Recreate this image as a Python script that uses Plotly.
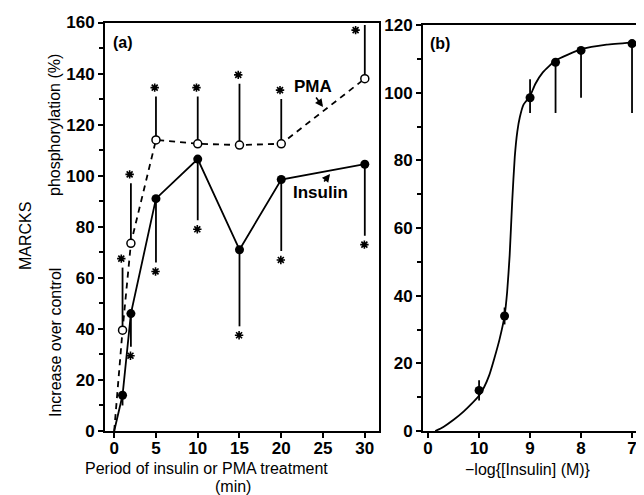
import plotly.graph_objects as go

# ---------------- Panel (a) data ----------------
time_min = [0, 1, 2, 5, 10, 15, 20, 30]
insulin_resp = [0, 14, 46, 91, 106.5, 71, 98.5, 104.5]
insulin_err_down = [0, 4, 13, 25, 24, 30, 28, 28]
insulin_sig = [False, False, True, True, True, True, True, True]
pma_resp = [0, 39.5, 73.5, 114, 112.5, 112, 112.5, 138]
pma_err_up = [0, 24.5, 23.5, 17, 18.5, 24, 17.5, 21]
pma_sig = [False, True, True, True, True, True, True, True]
time_ticks = [0, 5, 10, 15, 20, 25, 30]

# ---------------- Panel (b) data ----------------
neg_log_insulin = [10, 9.5, 9, 8.5, 8, 7]
dose_resp = [12, 34, 98.5, 109, 112.5, 114.5]
dose_err_up = [3, 2.5, 5.5, 0, 0, 0]
dose_err_down = [3, 2.5, 4.5, 15, 14, 20.5]
curve_neg_log = [10.86, 10.7, 10.5, 10.3, 10.15, 10.0, 9.9, 9.8, 9.7, 9.6, 9.5,
                 9.45, 9.4, 9.35, 9.3, 9.25, 9.2, 9.13, 9.0, 8.9, 8.75, 8.5, 8.0, 7.5, 7.0]
curve_resp = [0, 1.2, 3.3, 5.8, 8, 10.5, 13, 16.5, 21.5, 27, 34,
              41, 52, 68, 81, 88.5, 92.8, 96.4, 99, 102.5, 106, 109.5, 112.8, 114.2, 114.8]
dose_tick_labels = ["0", "10", "9", "8", "7"]

# position on the broken axis: "0" (no insulin) at 0, then -log 10 .. 7
def pos(v):
    return 11 - v

BLACK = "black"
FONT = "Liberation Sans, Arial, Helvetica, sans-serif"

fig = go.Figure()

# ---- panel (a) lines ----
fig.add_trace(go.Scatter(x=time_min, y=pma_resp, mode="lines",
                         line=dict(color=BLACK, width=1.8, dash="6px,5px"),
                         xaxis="x", yaxis="y", showlegend=False, hoverinfo="skip"))
fig.add_trace(go.Scatter(x=time_min, y=insulin_resp, mode="lines",
                         line=dict(color=BLACK, width=1.8),
                         xaxis="x", yaxis="y", showlegend=False, hoverinfo="skip"))

# ---- panel (a) markers with error bars ----
fig.add_trace(go.Scatter(
    x=time_min[1:], y=pma_resp[1:], mode="markers",
    marker=dict(symbol="circle", size=8, color="white", line=dict(color=BLACK, width=1.5)),
    error_y=dict(type="data", symmetric=False, array=pma_err_up[1:],
                 arrayminus=[0] * (len(time_min) - 1), color=BLACK, thickness=1.8, width=0),
    xaxis="x", yaxis="y", showlegend=False))
fig.add_trace(go.Scatter(
    x=time_min[1:], y=insulin_resp[1:], mode="markers",
    marker=dict(symbol="circle", size=9, color=BLACK),
    error_y=dict(type="data", symmetric=False, array=[0] * (len(time_min) - 1),
                 arrayminus=insulin_err_down[1:], color=BLACK, thickness=1.8, width=0),
    xaxis="x", yaxis="y", showlegend=False))

# ---- significance asterisks ----
sx, sy = [], []
for t, v, e, s in zip(time_min, pma_resp, pma_err_up, pma_sig):
    if s:
        top = v + e + 3.5
        if top > 157:
            sx.append(t - 1.1); sy.append(157)
        else:
            sx.append(t - 0.15); sy.append(top)
for t, v, e, s in zip(time_min, insulin_resp, insulin_err_down, insulin_sig):
    if s:
        sx.append(t - 0.05); sy.append(v - e - 3.5)
fig.add_trace(go.Scatter(x=sx, y=sy, mode="markers",
                         marker=dict(symbol="asterisk-open", size=7, color=BLACK,
                                     line=dict(color=BLACK, width=1.6)),
                         xaxis="x", yaxis="y", showlegend=False, cliponaxis=False))

# ---- panel (b) ----
fig.add_trace(go.Scatter(x=[pos(v) for v in curve_neg_log], y=curve_resp, mode="lines",
                         line=dict(color=BLACK, width=1.8, shape="spline", smoothing=0.5),
                         xaxis="x2", yaxis="y2", showlegend=False, hoverinfo="skip"))
fig.add_trace(go.Scatter(
    x=[pos(v) for v in neg_log_insulin], y=dose_resp, mode="markers",
    marker=dict(symbol="circle", size=9, color=BLACK),
    error_y=dict(type="data", symmetric=False, array=dose_err_up,
                 arrayminus=dose_err_down, color=BLACK, thickness=1.8, width=0),
    xaxis="x2", yaxis="y2", showlegend=False, cliponaxis=False))

# page body has an 8px margin, so the figure is offset by 8px
OFF = 8
W, H = 644 - OFF, 495 - OFF
def px(x):
    return (x - OFF) / W
def py(y):
    return 1 - (y - OFF) / H

tickfont = dict(family=FONT, size=17, color=BLACK, weight="bold")
axis_common = dict(showline=True, linecolor=BLACK, linewidth=2, ticks="outside",
                   ticklen=5, tickwidth=1.8, tickcolor=BLACK, showgrid=False,
                   zeroline=False, tickfont=tickfont, fixedrange=True,
                   automargin=False, ticklabeloverflow="allow")

fig.update_layout(
    width=W, height=H, margin=dict(l=0, r=0, t=0, b=0, autoexpand=False),
    paper_bgcolor="white", plot_bgcolor="white",
    xaxis=dict(domain=[px(105), px(379)], range=[-1.1, 31.7], tickvals=time_ticks,
               mirror=True, anchor="y", ticklabelstandoff=-4, **axis_common),
    yaxis=dict(domain=[py(431), py(22.5)], range=[0, 160], tickvals=list(range(0, 161, 20)),
               mirror=True, anchor="x",
               minor=dict(dtick=10, ticks="outside", ticklen=4, tickwidth=1.5, tickcolor=BLACK),
               **axis_common),
    xaxis2=dict(domain=[px(423), 1.0], range=[-0.1, 4.235], tickvals=[0, 1, 2, 3, 4],
                ticktext=dose_tick_labels, mirror=True, anchor="y2",
                ticklabelstandoff=-4, **axis_common),
    yaxis2=dict(domain=[py(431), py(25)], range=[0, 120], tickvals=list(range(0, 121, 20)),
                anchor="x2", mirror=False,
                minor=dict(dtick=10, ticks="outside", ticklen=4, tickwidth=1.5, tickcolor=BLACK),
                **axis_common),
)

def txt(x, y, s, size=16, bold=False, angle=0):
    fig.add_annotation(x=px(x), y=py(y), xref="paper", yref="paper", text=s,
                       showarrow=False, textangle=angle, xanchor="center", yanchor="middle",
                       font=dict(family=FONT, size=size, color=BLACK,
                                 weight="bold" if bold else "normal"))

def arrow(x0, y0, x1, y1):
    fig.add_annotation(x=px(x1), y=py(y1), xref="paper", yref="paper",
                       ax=x0 - x1, ay=y0 - y1, axref="pixel", ayref="pixel",
                       text="", showarrow=True, arrowhead=2, arrowsize=1,
                       arrowwidth=1.6, arrowcolor=BLACK)

# panel labels
txt(123, 42, "(a)", size=16, bold=True)
txt(440, 43, "(b)", size=16, bold=True)
# series labels
txt(313, 86, "PMA", size=17, bold=True)
arrow(315, 96, 323, 107)
txt(320, 192, "Insulin", size=17, bold=True)
arrow(323, 183, 330, 174)
# axis titles
txt(25, 236, "MARCKS", size=16, angle=-90)
txt(55, 343, "Increase over control", size=16, angle=-90)
txt(55, 125, "phosphorylation (%)", size=16, angle=-90)
txt(206, 468, "Period of insulin or PMA treatment", size=16)
txt(233, 486, "(min)", size=16)
txt(528, 469, "\u2212log{[Insulin] (M)}", size=16)

fig.write_html("out.html")
